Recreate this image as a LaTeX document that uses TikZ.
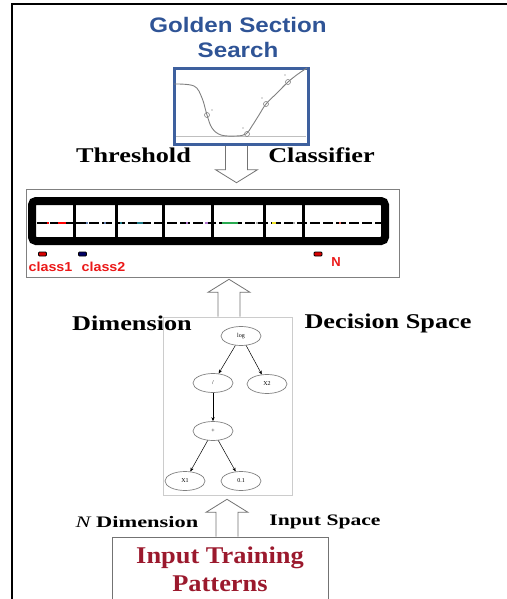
\documentclass[tikz,border=0pt]{standalone}
\usepackage{fontspec}
\setmainfont{Liberation Serif}
\newfontfamily\headfont{Liberation Sans}
\usetikzlibrary{calc,shapes.geometric,arrows.meta}

\definecolor{gssblue}{RGB}{47,84,150}
\definecolor{boxblue}{RGB}{62,96,158}
\definecolor{inred}{RGB}{155,25,45}
\definecolor{lblred}{RGB}{235,25,25}
\definecolor{cellblue}{RGB}{95,125,175}
\definecolor{cellteal}{RGB}{30,120,135}
\definecolor{cellviolet}{RGB}{175,115,205}
\definecolor{cellgreen}{RGB}{40,170,80}
\definecolor{cellyellow}{RGB}{240,230,40}
\definecolor{cellgray}{RGB}{175,175,175}
\definecolor{cellsalmon}{RGB}{240,120,110}

% hollow block arrow, tip at #2
\newcommand{\fatarrow}[2]{%
  \coordinate (fb) at ($(#2)!13pt!(#1)$);
  \draw[fatline] ($(#1)!11pt!90:(#2)$) -- ($(fb)!11pt!-90:(#1)$) -- ($(fb)!21pt!-90:(#1)$) -- (#2)
    -- ($(fb)!21pt!90:(#1)$) -- ($(fb)!11pt!90:(#1)$) -- ($(#1)!11pt!-90:(#2)$);}

\begin{document}
\begin{tikzpicture}[x=1pt,y=-1pt,
  fatline/.style={draw=black!55,fill=white,line width=0.8pt},
  lbl/.style={font=\fontsize{21}{24}\selectfont\bfseries},
  sublbl/.style={font=\fontsize{16}{18}\selectfont\bfseries},
  gnode/.style={ellipse,draw=black!50,line width=0.7pt,minimum width=40pt,minimum height=19pt,inner sep=0pt,font=\fontsize{6}{7}\selectfont},
  gedge/.style={-{Stealth[length=4pt,width=3.2pt]},line width=0.5pt},
  cls/.style={font=\headfont\fontsize{13}{15}\selectfont\bfseries,text=lblred,inner sep=0pt},
  legbox/.style={draw=black,line width=0.8pt,rounded corners=1pt,minimum width=8pt,minimum height=4pt,inner sep=0pt}]
\useasboundingbox (0,0) rectangle (506,599);
\draw[line width=2pt] (12,600) -- (12,4) -- (507,4);

% golden section search
\node[font=\headfont\fontsize{21}{25}\selectfont\bfseries,text=gssblue,align=center] (title) at (238,37)
  {\scalebox{1.15}[1]{Golden Section}\\\scalebox{1.15}[1]{Search}};
\node[draw=boxblue,line width=3pt,minimum width=134pt,minimum height=76pt,inner sep=0pt] (gss) at (241.5,106.5) {};
\draw[black!25,line width=0.6pt] (176,136) -- (306,136);
\draw[black!50,line width=0.9pt] plot[smooth,tension=0.6] coordinates
  {(174,84) (194,86) (202,98) (207,115) (212,128) (221,135) (236,136) (246,134) (252,126) (259,115) (266,104) (277,93) (288,82) (298,74) (307,68)};
\foreach \p in {(207,115),(247,134),(266,104),(288,82)}
  \draw[black!50,line width=0.6pt] \p circle (2.5pt);
\foreach \p in {(212,110),(243,128),(262,98),(285,75)}
  \fill[black!60] \p circle (0.7pt);
\node[lbl] (thr) at (133.5,155) {\scalebox{1.25}[1]{Threshold}};
\node[lbl] (clsfr) at (321.5,155) {\scalebox{1.25}[1]{Classifier}};

% classifier
\node[draw=black!50,line width=0.6pt,minimum width=373pt,minimum height=88pt,inner sep=0pt] (clf) at (212.5,233) {};
\draw[line width=8pt,rounded corners=4pt] (32,201) rectangle (385,241);
\foreach \x in {74,116,163,212,264,303}
  \draw[line width=3pt] (\x,201) -- (\x,241);
\draw[line width=2pt,dash pattern=on 10pt off 3pt] (37,223) -- (381,223);
\foreach \a/\b/\c in {47/49/red,58/66/red,86/88/cellblue,104/106/cellblue,120/122/cellteal,137/143/cellteal,
    186/188/cellviolet,205/208/cellviolet,222/238/cellgreen,256/258/cellgray,272/276/cellyellow,293/295/cellgray,339/341/cellsalmon}
  \draw[line width=2pt,\c] (\a,223) -- (\b,223);
\node[legbox,fill=red!85!black] (k1) at (42.5,254) {};
\node[legbox,fill=blue!40!black] (k2) at (82.5,254) {};
\node[legbox,fill=red!85!black] (kn) at (318,254) {};
\node[cls] (c1) at (50.5,267) {\scalebox{1.1}[1]{class1}};
\node[cls] (c2) at (103.5,267) {\scalebox{1.1}[1]{class2}};
\node[cls] (cn) at (336,262) {N};

\coordinate (a1) at ($(gss.south)+(-5,0)$);
\coordinate (t1) at ($(a1|-clf.north)+(0,-6)$);
\fatarrow{a1}{t1}

\node[lbl] (dim) at (132,323) {\scalebox{1.25}[1]{Dimension}};
\node[lbl] (dsp) at (388,323) {\scalebox{1.25}[1]{Decision Space}};

% expression tree
\node[draw=black!20,line width=0.6pt,minimum width=129pt,minimum height=178pt,inner sep=0pt] (tree) at (227.5,406) {};
\node[gnode] (log) at (241,336) {log};
\node[gnode] (div) at (213,383) {/};
\node[gnode] (x2) at (267,384) {X2};
\node[gnode] (plus) at (213,431) {+};
\node[gnode] (x1) at (185,481) {X1};
\node[gnode] (c01) at (241,481) {0.1};
\draw[gedge] (log) -- (div);
\draw[gedge] (log) -- (x2);
\draw[gedge] (div) -- (plus);
\draw[gedge] (plus) -- (x1);
\draw[gedge] (plus) -- (c01);

\coordinate (a2) at ($(tree.north)+(1.5,0)$);
\coordinate (t2) at ($(a2|-clf.south)+(0,2)$);
\fatarrow{a2}{t2}

% input
\node[sublbl] (ndim) at (137,522) {\scalebox{1.4}[1]{{\mdseries\itshape N} Dimension}};
\node[sublbl] (isp) at (325,522) {\scalebox{1.35}[1]{Input Space}};
\node[draw=black!55,line width=0.8pt,minimum width=216pt,minimum height=64pt,inner sep=0pt,
  font=\fontsize{24}{28}\selectfont\bfseries,text=inred,align=center] (input) at (220,569)
  {\scalebox{1.1}[1]{Input Training}\\\scalebox{1.1}[1]{Patterns}};
\coordinate (a3) at ($(input.north)+(7,0)$);
\coordinate (t3) at ($(a3|-tree.south)+(0,4)$);
\fatarrow{a3}{t3}
\end{tikzpicture}
\end{document}
